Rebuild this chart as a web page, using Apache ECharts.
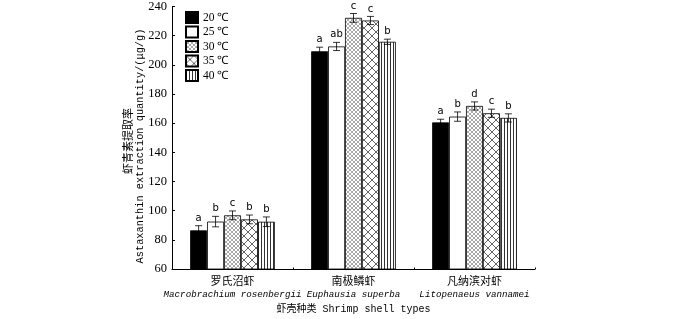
<!DOCTYPE html>
<html>
<head>
<meta charset="utf-8">
<script src="https://cdn.jsdelivr.net/npm/echarts@6/dist/echarts.min.js"></script>
<style>
  html, body { margin: 0; padding: 0; background: #fff; }
  #main { width: 700px; height: 319px; }
</style>
</head>
<body>
<div id="main"></div>
<script>
// data
const categoriesCn = ['罗氏沼虾', '南极鳞虾', '凡纳滨对虾'];
const categoriesEn = ['Macrobrachium rosenbergii', 'Euphausia superba', 'Litopenaeus vannamei'];
const temps = ['20 ℃', '25 ℃', '30 ℃', '35 ℃', '40 ℃'];

const mean20 = [86.5, 209.3, 160.5];
const mean25 = [92.5, 212.6, 164.5];
const mean30 = [96.8, 232.2, 171.8];
const mean35 = [94, 230.4, 166.8];
const mean40 = [92.4, 215.8, 163.6];

const err20 = [3.2, 2.8, 2.2];
const err25 = [3.6, 2.8, 3.2];
const err30 = [3, 3, 2.8];
const err35 = [3, 2.8, 2.8];
const err40 = [3.3, 1.8, 2.8];

const sig20 = ['a', 'a', 'a'];
const sig25 = ['b', 'ab', 'b'];
const sig30 = ['c', 'c', 'd'];
const sig35 = ['b', 'c', 'c'];
const sig40 = ['b', 'b', 'b'];

const yTicks = [60, 80, 100, 120, 140, 160, 180, 200, 220, 240];

const means = [mean20, mean25, mean30, mean35, mean40];
const errs = [err20, err25, err30, err35, err40];
const sigs = [sig20, sig25, sig30, sig35, sig40];

function pattern(kind) {
    const c = document.createElement('canvas');
    const ctx = c.getContext('2d');
    let s;
    if (kind === 'fine') s = 4;
    else if (kind === 'coarse') s = 8;
    else s = 3;
    c.width = s; c.height = kind === 'vert' ? 1 : s;
    ctx.fillStyle = '#fff';
    ctx.fillRect(0, 0, c.width, c.height);
    if (kind === 'vert') {
        ctx.fillStyle = '#333';
        ctx.fillRect(0, 0, 1, 1);
    } else {
        ctx.strokeStyle = kind === 'fine' ? '#555' : '#222';
        ctx.lineWidth = kind === 'fine' ? 0.5 : 0.7;
        ctx.beginPath();
        ctx.moveTo(0, 0); ctx.lineTo(s, s);
        ctx.moveTo(s, 0); ctx.lineTo(0, s);
        ctx.stroke();
    }
    return { image: c, repeat: 'repeat' };
}

const fills = ['#000', '#fff', pattern('fine'), pattern('coarse'), pattern('vert')];
const barFrac = 0.14;

let chart = echarts.init(document.getElementById('main'));

let series = temps.map((t, i) => ({
    name: t,
    type: 'bar',
    data: means[i],
    barWidth: (barFrac * 100) + '%',
    barGap: '0%',
    itemStyle: { color: fills[i], borderColor: '#000', borderWidth: 0.8 }
}));

// error bars + significance letters
let errData = [];
for (let i = 0; i < temps.length; i++) {
    for (let j = 0; j < categoriesCn.length; j++) {
        errData.push([j, means[i][j], errs[i][j], i, sigs[i][j]]);
    }
}
series.push({
    type: 'custom',
    name: 'err',
    silent: true,
    data: errData,
    encode: { x: 0, y: 1 },
    z: 5,
    renderItem: function (params, api) {
        const cat = api.value(0);
        const m = api.value(1);
        const e = api.value(2);
        const k = api.value(3);
        const letter = errData[params.dataIndex][4];
        const band = api.size([1, 0])[0];
        const bw = band * barFrac;
        const c = api.coord([cat, m]);
        const x = c[0] + (k - 2) * bw;
        const top = api.coord([cat, m + e])[1];
        const bot = api.coord([cat, m - e])[1];
        const cap = 3.5;
        const st = { stroke: '#000', lineWidth: 0.8 };
        return {
            type: 'group',
            children: [
                { type: 'line', shape: { x1: x, y1: top, x2: x, y2: bot }, style: st },
                { type: 'line', shape: { x1: x - cap, y1: top, x2: x + cap, y2: top }, style: st },
                { type: 'line', shape: { x1: x - cap, y1: bot, x2: x + cap, y2: bot }, style: st },
                {
                    type: 'text',
                    style: {
                        text: letter, x: x, y: top - 2.5,
                        textAlign: 'center', textVerticalAlign: 'bottom',
                        font: '10px "DejaVu Sans"', fill: '#000'
                    }
                }
            ]
        };
    }
});

let option = {
    animation: false,
    grid: { left: 172, right: 165, top: 6, bottom: 44 },
    legend: {
        orient: 'vertical',
        left: 180,
        top: 6,
        icon: 'rect',
        itemWidth: 12,
        itemHeight: 11,
        itemGap: 1.5,
        data: temps,
        textStyle: { fontFamily: '"Liberation Serif"', fontSize: 11.5, color: '#000' }
    },
    xAxis: {
        type: 'category',
        data: categoriesCn,
        name: '虾壳种类 Shrimp shell types',
        nameLocation: 'middle',
        nameGap: 35,
        nameTextStyle: { fontFamily: '"Liberation Mono", "Noto Sans CJK SC"', fontSize: 10, color: '#000' },
        axisLine: { lineStyle: { color: '#000', width: 1 } },
        axisTick: { show: true, inside: true, length: 1.5, lineStyle: { color: '#000' } },
        axisLabel: {
            margin: 5,
            interval: 0,
            formatter: function (v, idx) {
                return '{cn|' + v + '}\n{en|' + categoriesEn[idx] + '}';
            },
            rich: {
                cn: { fontFamily: '"Noto Sans CJK SC"', fontSize: 11, color: '#000', lineHeight: 14 },
                en: { fontFamily: '"Liberation Mono"', fontStyle: 'italic', fontSize: 9.2, color: '#000', lineHeight: 13 }
            }
        }
    },
    yAxis: {
        type: 'value',
        min: yTicks[0],
        max: yTicks[yTicks.length - 1],
        interval: 20,
        axisLine: { show: true, lineStyle: { color: '#000', width: 1 } },
        axisTick: { show: true, inside: true, length: 3, lineStyle: { color: '#000' } },
        splitLine: { show: false },
        axisLabel: { margin: 5, fontFamily: '"Liberation Serif"', fontSize: 12.5, color: '#000' }
    },
    graphic: [
        {
            type: 'text', x: 128, y: 141, rotation: Math.PI / 2,
            style: { text: '虾青素提取率', font: '11px "Noto Sans CJK SC"', fill: '#000', textAlign: 'center', textVerticalAlign: 'middle' }
        },
        {
            type: 'text', x: 140.5, y: 146, rotation: Math.PI / 2,
            style: { text: 'Astaxanthin extraction quantity/(μg/g)', font: '10.3px "Liberation Mono"', fill: '#000', textAlign: 'center', textVerticalAlign: 'middle' }
        }
    ],
    series: series
};

chart.setOption(option);
</script>
</body>
</html>
